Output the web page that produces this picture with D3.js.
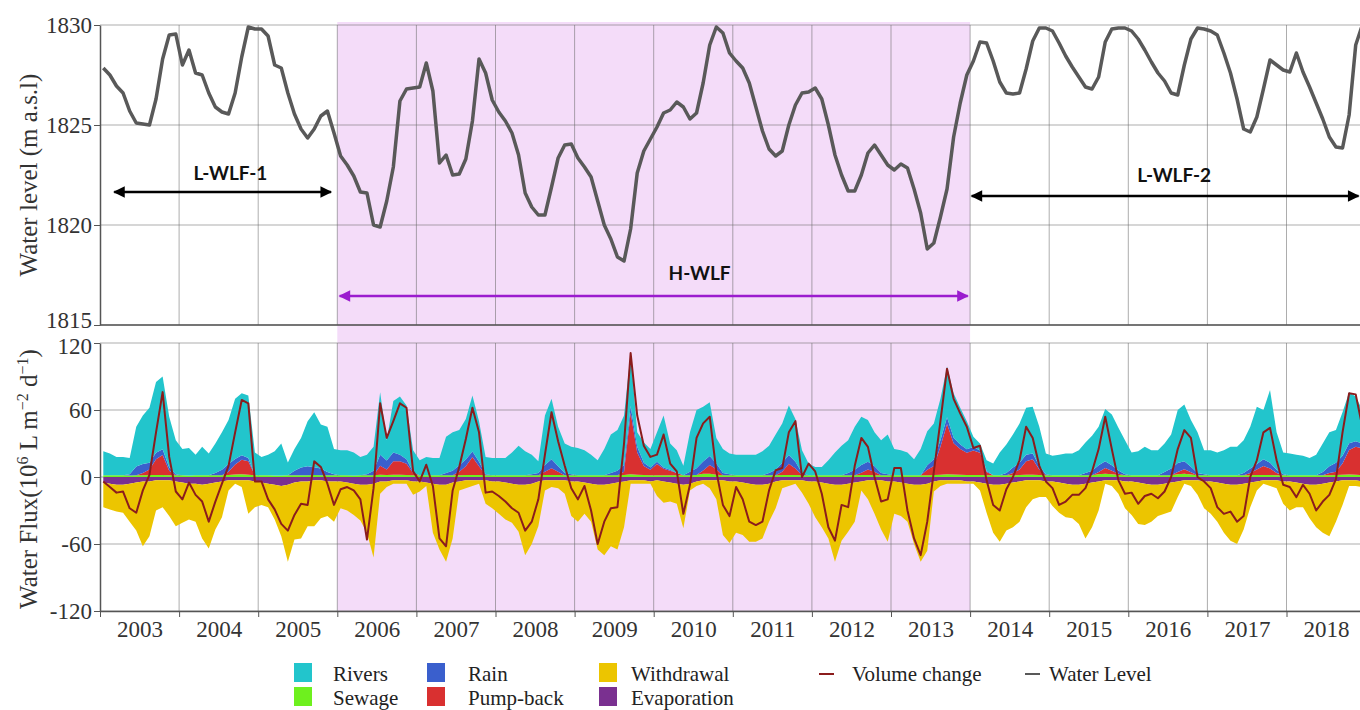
<!DOCTYPE html>
<html>
<head>
<meta charset="utf-8">
<script src="https://cdn.jsdelivr.net/npm/d3@7"></script>
<style>
  body { margin: 0; background: #fff; }
</style>
</head>
<body>
<div class="chart"></div>
<script>
// monthly values, Jan 2003 - Dec 2018
const years = d3.range(2003, 2019);
const levelTicks = [1815, 1820, 1825, 1830];
const fluxTicks = [-120, -60, 0, 60, 120];

const waterLevel = [
  1827.85,1827.5,1826.95,1826.6,1825.7,1825.1,1825.05,1825.0,1826.3,1828.3,1829.5,1829.55,
  1828.0,1828.75,1827.6,1827.5,1826.6,1825.9,1825.65,1825.55,1826.6,1828.4,1829.9,1829.8,
  1829.8,1829.45,1828.0,1827.85,1826.6,1825.55,1824.8,1824.35,1824.8,1825.45,1825.7,1824.6,
  1823.45,1823.0,1822.45,1821.65,1821.6,1820.0,1819.9,1821.2,1822.9,1826.2,1826.8,1826.85,
  1826.9,1828.1,1826.7,1823.1,1823.5,1822.5,1822.55,1823.3,1825.2,1828.3,1827.6,1826.25,
  1825.65,1825.2,1824.6,1823.5,1821.6,1820.9,1820.5,1820.5,1821.9,1823.35,1824.0,1824.05,
  1823.35,1822.9,1822.4,1821.2,1820.0,1819.3,1818.4,1818.2,1819.8,1822.6,1823.7,1824.3,
  1824.9,1825.6,1825.75,1826.15,1825.9,1825.3,1825.6,1827.1,1829.0,1829.9,1829.6,1828.6,
  1828.2,1827.85,1827.1,1825.9,1824.7,1823.8,1823.45,1823.7,1825.0,1826.0,1826.6,1826.65,
  1826.85,1826.3,1825.0,1823.5,1822.5,1821.7,1821.7,1822.5,1823.6,1824.0,1823.5,1823.0,
  1822.75,1823.05,1822.85,1821.8,1820.6,1818.8,1819.1,1820.4,1821.8,1824.4,1826.1,1827.5,
  1828.2,1829.15,1829.1,1828.2,1827.15,1826.6,1826.55,1826.6,1827.8,1829.2,1829.85,1829.85,
  1829.7,1829.1,1828.45,1827.9,1827.4,1826.9,1826.8,1827.4,1829.15,1829.8,1829.85,1829.85,
  1829.7,1829.3,1828.75,1828.15,1827.6,1827.2,1826.6,1826.5,1828.0,1829.3,1829.85,1829.8,
  1829.7,1829.5,1828.6,1827.6,1826.3,1824.8,1824.65,1825.4,1826.8,1828.25,1828.0,1827.75,
  1827.65,1828.6,1827.65,1826.9,1826.1,1825.3,1824.4,1823.9,1823.85,1825.5,1829.0,1830.0
];

const rivers = [
  21.5,19.5,16.4,16.5,14.6,35.5,43.4,49.3,63.2,65.2,45.4,30.5,
  23.5,24.6,18.5,25.5,19.4,26.4,33.5,39.3,53.8,55.6,56,20.5,
  16.5,18.5,21.6,28.6,11.5,19.5,26.4,40.4,49.3,39.4,40.5,22.5,
  22.5,22.5,20.6,16.5,17.5,21.4,56,18.2,46,52,48.2,19.5,
  13.5,16.5,15.5,15.5,32.4,34.4,31.4,36.3,50.2,36.3,15.5,15.5,
  15.5,15.5,20.5,26.4,21.5,17.5,10.5,44.3,54.2,35.3,26.4,24.5,
  24.5,22.5,18.5,13.5,23.5,34.5,36.4,44.3,47.5,13,18.2,16.4,
  26.4,46.5,23.5,20.5,8.5,35.4,52.2,49.2,48.2,23,21.4,18.5,
  18.5,18.5,18.5,18.5,21.5,24.5,31.4,35.3,44.2,38.3,20.5,10.5,
  7.5,7.5,13.5,20.5,26.5,29.5,38.4,43.3,37.3,30.4,29.5,35.5,
  23.5,22.5,20.5,14.5,23.5,30.4,32.2,37,45.5,39.8,33,25.2,
  9.2,6.3,9.5,10.5,20.5,25.5,29.4,35.3,42,42,35.2,18.5,
  17.5,18.5,19.5,19.5,22.5,27.5,31.4,34.5,47,45.5,38.2,30.5,
  20.5,21.5,25.5,22.5,22.5,25.5,30.4,47.5,51,41.8,36.4,21.5,
  22.5,20.5,22.5,25.5,25.5,29.5,37.4,51.3,44.2,65.3,33.4,19.5,
  19.5,18.5,17.5,15.5,18.5,25.5,30.4,29.3,39,45.8,40,30.2
];

const rain = [
  0,0,0,0,1,8,8,6,6,5,3,1,
  0,0,0,0,0,2,5,7,5,4,3,0,
  0,0,0,0,0,4,7,8,7,6,3,1,
  0,0,0,0,1,4,10,8,8,6,4,1,
  0,0,0,0,2,4,6,6,5,4,1,0,
  0,0,0,0,0,1,2,6,8,5,2,1,
  0,0,0,0,0,2,4,6,6,5,3,2,
  2,1,1,0,0,3,6,8,8,5,2,1,
  0,0,0,0,0,2,5,8,8,6,2,0,
  0,0,0,0,0,2,5,7,7,5,2,1,
  0,0,0,0,0,4,6,6,6,5,4,3,
  3,2,1,0,0,2,5,6,6,5,3,1,
  0,0,0,0,0,2,4,6,6,5,3,1,
  0,0,0,0,0,3,6,8,7,5,2,1,
  0,0,0,0,0,2,4,5,6,5,3,1,
  0,0,0,0,0,3,6,8,7,6,5,4
];

const pumpBack = [
  0,0,0,0,0,0,2,5,14,18,4,0,
  0,0,0,0,0,0,0,3,9,13,12,0,
  0,0,0,0,0,0,0,0,0,0,0,0,
  0,0,0,0,0,0,8,5,12,12,10,2,
  0,0,0,0,0,0,3,8,16,8,0,0,
  0,0,0,0,0,0,0,3,6,3,0,0,
  0,0,0,0,0,0,0,3,55,20,8,5,
  10,6,4,2,0,0,0,3,8,5,0,0,
  0,0,0,0,0,0,0,3,10,6,0,0,
  0,0,0,0,0,0,0,2,5,3,0,0,
  0,0,0,0,0,5,8,25,45,28,23,20,
  22,20,3,0,0,0,2,5,12,14,5,0,
  0,0,0,0,0,0,0,2,5,3,1,0,
  0,0,0,0,0,0,0,2,4,2,0,0,
  0,0,0,0,0,0,2,5,8,6,2,0,
  0,0,0,0,0,0,2,3,10,22,25,24
];

const sewage = [
  1.5,1.5,1.6,1.5,1.4,1.5,1.6,1.7,1.8,1.8,1.6,1.5,
  1.5,1.4,1.5,1.5,1.6,1.6,1.5,1.7,2.2,2.4,2.0,1.5,
  1.5,1.5,1.4,1.4,1.5,1.5,1.6,1.6,1.7,1.6,1.5,1.5,
  1.5,1.5,1.4,1.5,1.5,1.6,2.0,1.8,2.0,2.0,1.8,1.5,
  1.5,1.5,1.5,1.5,1.6,1.6,1.6,1.7,1.8,1.7,1.5,1.5,
  1.5,1.5,1.5,1.6,1.5,1.5,1.5,1.7,1.8,1.7,1.6,1.5,
  1.5,1.5,1.5,1.5,1.5,1.5,1.6,1.7,2.5,2.0,1.8,1.6,
  1.6,1.5,1.5,1.5,1.5,1.6,1.8,2.8,2.8,2.0,1.6,1.5,
  1.5,1.5,1.5,1.5,1.5,1.5,1.6,1.7,1.8,1.7,1.5,1.5,
  1.5,1.5,1.5,1.5,1.5,1.5,1.6,1.7,1.7,1.6,1.5,1.5,
  1.5,1.5,1.5,1.5,1.5,1.6,1.8,2.0,2.5,2.2,2.0,1.8,
  1.8,1.7,1.5,1.5,1.5,1.5,1.6,1.7,2.0,2.0,1.8,1.5,
  1.5,1.5,1.5,1.5,1.5,1.5,1.6,2.5,3.0,2.5,1.8,1.5,
  1.5,1.5,1.5,1.5,1.5,1.5,1.6,2.5,3.0,2.2,1.6,1.5,
  1.5,1.5,1.5,1.5,1.5,1.5,1.6,1.7,1.8,1.7,1.6,1.5,
  1.5,1.5,1.5,1.5,1.5,1.5,1.6,1.7,2.0,2.2,2.0,1.8
];

const withdrawal = [
  -22,-23,-24,-25,-34,-43,-58,-49,-27,-24,-32,-40,
  -36,-32,-34,-48,-58,-42,-32,-9,-3,-6,-30,-23,
  -20,-21,-31,-45,-69,-51,-51,-40,-41,-34,-31,-36,
  -24,-25,-28,-32,-43,-66,-11,-5,-3,-3,-3,-12,
  -9,-3,-44,-58,-69,-50,-8,-7,-5,-3,-21,-24,
  -29,-33,-35,-42,-63,-54,-40,-9,-6,-7,-12,-31,
  -36,-28,-34,-58,-63,-56,-60,-41,-3,-3,-3,-2,
  -14,-19,-17,-18,-39,-6,-4,-3,-7,-17,-49,-55,
  -46,-47,-52,-51,-48,-34,-24,-7,-5,-3,-11,-20,
  -32,-40,-49,-69,-50,-43,-35,-8,-17,-30,-44,-54,
  -29,-30,-34,-53,-69,-60,-9,-5,-3,-3,-3,-2,
  -2,-7,-26,-43,-51,-42,-40,-36,-24,-17,-15,-14,
  -22,-27,-30,-30,-35,-49,-40,-26,-3,-5,-12,-24,
  -30,-37,-37,-33,-28,-27,-26,-14,-3,-5,-13,-24,
  -29,-35,-44,-50,-53,-41,-22,-8,-3,-5,-7,-20,
  -26,-22,-21,-30,-38,-44,-48,-36,-22,-5,-5,-5
];

const evaporation = [
  -5,-6,-7,-7,-6,-5,-4,-4,-3,-3,-3,-4,
  -5,-6,-6,-7,-6,-5,-4,-3,-3,-3,-3,-4,
  -5,-6,-7,-8,-7,-5,-4,-4,-3,-3,-4,-4,
  -4,-5,-6,-7,-7,-6,-4,-4,-3,-3,-3,-4,
  -4,-5,-6,-7,-7,-5,-4,-3,-3,-3,-3,-4,
  -4,-5,-6,-7,-7,-6,-4,-3,-3,-3,-3,-4,
  -4,-5,-6,-7,-7,-6,-5,-4,-3,-3,-3,-4,
  -3,-4,-5,-6,-7,-6,-4,-3,-3,-3,-3,-4,
  -4,-5,-6,-7,-7,-6,-4,-3,-3,-3,-3,-4,
  -4,-5,-6,-7,-7,-6,-5,-4,-3,-3,-3,-4,
  -4,-5,-6,-7,-7,-6,-4,-3,-3,-3,-3,-4,
  -4,-5,-6,-7,-7,-6,-5,-4,-3,-3,-3,-4,
  -4,-5,-6,-7,-7,-6,-5,-4,-3,-3,-3,-4,
  -4,-5,-6,-7,-7,-6,-5,-4,-3,-3,-3,-4,
  -4,-5,-6,-7,-7,-6,-5,-4,-3,-3,-3,-4,
  -4,-5,-6,-7,-7,-6,-5,-4,-3,-3,-3,-4
];

const volumeChange = [
  -4,-9,-14,-13,-28,-32,-12,2,40,76,18,-13,
  -20,-5,-16,-22,-40,-22,-6,10,40,69,66,-4,
  -4,-20,-29,-42,-48,-34,-24,-25,14,9,-6,-25,
  -11,-9,-12,-20,-56,-10,66,35,50,66,62,5,
  -4,11,-8,-55,-62,-12,9,34,62,40,-14,-13,
  -17,-22,-28,-32,-48,-40,-20,20,58,32,10,-10,
  -20,-8,-30,-60,-40,-28,-27,30,111,55,28,18,
  20,38,12,5,-33,-7,35,48,54,5,-25,-35,
  -9,-20,-40,-43,-40,-12,6,8,40,50,0,12,
  5,-15,-45,-57,-25,-27,10,35,27,0,-22,-20,
  8,8,-30,-55,-70,-40,5,50,97,70,57,45,
  26,28,-3,-25,-30,-11,0,15,45,35,10,-4,
  -10,-25,-22,-16,-16,-10,5,25,54,25,-3,-15,
  -14,-24,-17,-15,-19,-13,0,25,42,35,0,-4,
  -10,-27,-33,-31,-40,-35,0,15,40,44,15,-7,
  -9,-18,-7,-15,-30,-22,-16,-2,40,75,74,45
];

// periods marked on the level panel (years, m a.s.l.)
const periods = [
  {name: 'L-WLF-1', from: 2003.18, to: 2005.92, labelAt: 2004.65, arrowAt: 1821.65, labelLevel: 1822.25, color: '#000'},
  {name: 'H-WLF',   from: 2006.03, to: 2013.97, labelAt: 2010.58, arrowAt: 1816.45, labelLevel: 1817.25, color: '#9b1ccf'},
  {name: 'L-WLF-2', from: 2014.02, to: 2018.91, labelAt: 2016.58, arrowAt: 1821.45, labelLevel: 1822.15, color: '#000'}
];
const highPeriod = [2006, 2014];

const colors = {
  rivers: '#22c5cc', rain: '#3a5fcd', withdrawal: '#ecc500',
  sewage: '#6ef01e', pumpBack: '#d93030', evaporation: '#7a3090',
  volume: '#8b1c1c', level: '#595959'
};

const width = 1360, height = 710;
const serif = '"Liberation Serif", "Times New Roman", serif';

const svg = d3.select('.chart').append('svg')
  .attr('width', width)
  .attr('height', height);

const x = d3.scaleLinear().domain([2003, 2019]).range([100, 1365.6]);
const yLevel = d3.scaleLinear().domain([1815, 1830]).range([325, 25]);
const yFlux = d3.scaleLinear().domain([-120, 120]).range([611, 343]);

const rows = waterLevel.map((d, i) => ({
  t: 2003 + (i + 0.5) / 12,
  level: d,
  sewage: sewage[i], pumpBack: pumpBack[i], rain: rain[i], rivers: rivers[i],
  evaporation: evaporation[i], withdrawal: withdrawal[i],
  volume: volumeChange[i]
}));

// high water level fluctuation period
svg.append('rect')
  .attr('x', x(highPeriod[0]))
  .attr('y', 22)
  .attr('width', x(highPeriod[1]) - x(highPeriod[0]))
  .attr('height', yFlux(-120) - 22)
  .attr('fill', '#f4dcf9');

// grid
const grid = svg.append('g')
  .attr('stroke', '#6a6a6a')
  .attr('stroke-opacity', 0.55)
  .attr('stroke-width', 1);

grid.selectAll('line.hl')
  .data(levelTicks)
  .join('line')
  .attr('x1', x(2003)).attr('x2', width)
  .attr('y1', d => yLevel(d)).attr('y2', d => yLevel(d));

grid.selectAll('line.hf')
  .data(fluxTicks)
  .join('line')
  .attr('x1', x(2003)).attr('x2', width)
  .attr('y1', d => yFlux(d)).attr('y2', d => yFlux(d));

years.slice(1).forEach(yr => {
  grid.append('line')
    .attr('x1', x(yr)).attr('x2', x(yr))
    .attr('y1', yLevel(1830)).attr('y2', yLevel(1815));
  grid.append('line')
    .attr('x1', x(yr)).attr('x2', x(yr))
    .attr('y1', yFlux(120)).attr('y2', yFlux(-120));
});

// flux areas
const posKeys = ['sewage', 'pumpBack', 'rain', 'rivers'];
const negKeys = ['evaporation', 'withdrawal'];
const posStack = d3.stack().keys(posKeys)(rows);
const negStack = d3.stack().keys(negKeys)(rows);

const area = d3.area()
  .x(d => x(d.data.t))
  .y0(d => yFlux(d[0]))
  .y1(d => yFlux(d[1]));

svg.append('g')
  .selectAll('path')
  .data(posStack.concat(negStack))
  .join('path')
  .attr('d', area)
  .attr('fill', d => colors[d.key]);

// volume change
svg.append('path')
  .datum(rows)
  .attr('d', d3.line().x(d => x(d.t)).y(d => yFlux(d.volume)))
  .attr('fill', 'none')
  .attr('stroke', colors.volume)
  .attr('stroke-width', 2)
  .attr('stroke-linejoin', 'round');

// water level
svg.append('path')
  .datum(rows)
  .attr('d', d3.line().x(d => x(d.t)).y(d => yLevel(d.level)))
  .attr('fill', 'none')
  .attr('stroke', colors.level)
  .attr('stroke-width', 3.5)
  .attr('stroke-linejoin', 'round');

// axes
function styleAxis(g) {
  g.attr('font-family', null).attr('font-size', null);
  g.select('.domain').attr('stroke', '#555').attr('stroke-width', 1.5);
  g.selectAll('.tick line').attr('stroke', '#555');
  g.selectAll('.tick text')
    .attr('font-family', serif)
    .attr('font-size', 23)
    .attr('fill', '#333');
}

svg.append('g')
  .attr('transform', `translate(${x(2003)},0)`)
  .call(d3.axisLeft(yLevel).tickValues(levelTicks).tickSize(6).tickSizeOuter(0).tickPadding(2)
    .tickFormat(d3.format('d')))
  .call(styleAxis)
  .call(g => g.selectAll('.tick text').filter(d => d === 1815).attr('dy', '0.1em'));

svg.append('g')
  .attr('transform', `translate(${x(2003)},0)`)
  .call(d3.axisLeft(yFlux).tickValues(fluxTicks).tickSize(6).tickSizeOuter(0).tickPadding(2)
    .tickFormat(d => String(d)))
  .call(styleAxis)
  .call(g => g.selectAll('.tick text').filter(d => d === 120).attr('dy', '0.45em'));

// bottom lines of both panels
svg.append('line')
  .attr('x1', x(2003)).attr('x2', width)
  .attr('y1', yLevel(1815)).attr('y2', yLevel(1815))
  .attr('stroke', '#555').attr('stroke-width', 1.5);

svg.append('g')
  .attr('transform', `translate(0,${yFlux(-120)})`)
  .call(d3.axisBottom(x).tickValues(years.concat([2019])).tickSize(6).tickSizeOuter(0).tickFormat(''))
  .call(styleAxis);

svg.append('g')
  .attr('transform', `translate(0,${yFlux(-120)})`)
  .call(d3.axisBottom(x).tickValues(years.map(d => d + 0.5)).tickSize(0).tickPadding(10)
    .tickFormat(d => Math.floor(d)))
  .call(styleAxis)
  .call(g => g.select('.domain').remove());

// axis titles
svg.append('text')
  .attr('transform', `translate(37,${(yLevel(1830) + yLevel(1815)) / 2}) rotate(-90)`)
  .attr('text-anchor', 'middle')
  .attr('font-family', serif)
  .attr('font-size', 25)
  .attr('fill', '#333')
  .text('Water level (m a.s.l)');

const fluxTitle = svg.append('text')
  .attr('transform', `translate(37,${(yFlux(120) + yFlux(-120)) / 2 + 2}) rotate(-90)`)
  .attr('text-anchor', 'middle')
  .attr('font-family', serif)
  .attr('font-size', 25)
  .attr('fill', '#333');
fluxTitle.append('tspan').text('Water Flux(10');
fluxTitle.append('tspan').attr('dy', -9).attr('font-size', 16).text('6');
fluxTitle.append('tspan').attr('dy', 9).text(' L m');
fluxTitle.append('tspan').attr('dy', -9).attr('font-size', 16).text('\u22122');
fluxTitle.append('tspan').attr('dy', 9).text(' d');
fluxTitle.append('tspan').attr('dy', -9).attr('font-size', 16).text('\u22121');
fluxTitle.append('tspan').attr('dy', 9).text(')');

// period arrows
const defs = svg.append('defs');
periods.forEach((p, i) => {
  defs.append('marker')
    .attr('id', 'head' + i)
    .attr('viewBox', '0 0 10 10')
    .attr('refX', 9).attr('refY', 5)
    .attr('markerWidth', 5.5).attr('markerHeight', 4.5)
    .attr('orient', 'auto-start-reverse')
    .append('path')
    .attr('d', 'M0,0 L10,5 L0,10 Z')
    .attr('fill', p.color);
});

const ann = svg.append('g');
ann.selectAll('line')
  .data(periods)
  .join('line')
  .attr('x1', d => x(d.from)).attr('x2', d => x(d.to))
  .attr('y1', d => yLevel(d.arrowAt)).attr('y2', d => yLevel(d.arrowAt))
  .attr('stroke', d => d.color)
  .attr('stroke-width', 2.6)
  .attr('marker-start', (d, i) => `url(#head${i})`)
  .attr('marker-end', (d, i) => `url(#head${i})`);

ann.selectAll('text')
  .data(periods)
  .join('text')
  .attr('x', d => x(d.labelAt))
  .attr('y', d => yLevel(d.labelLevel))
  .attr('text-anchor', 'middle')
  .attr('font-family', 'Lato, "Open Sans", sans-serif')
  .attr('font-weight', 700)
  .attr('font-size', 19)
  .attr('fill', '#111')
  .text(d => d.name);

// legend
const legendItems = [
  {name: 'Rivers', key: 'rivers', col: 0, row: 0},
  {name: 'Rain', key: 'rain', col: 1, row: 0},
  {name: 'Withdrawal', key: 'withdrawal', col: 2, row: 0},
  {name: 'Sewage', key: 'sewage', col: 0, row: 1},
  {name: 'Pump-back', key: 'pumpBack', col: 1, row: 1},
  {name: 'Evaporation', key: 'evaporation', col: 2, row: 1}
];
const legendCols = [{sx: 294, tx: 333}, {sx: 427, tx: 468}, {sx: 599, tx: 631}];
const rowBase = [681, 705];

const legend = svg.append('g')
  .attr('font-family', serif)
  .attr('font-size', 21)
  .attr('fill', '#222');

legend.selectAll('rect')
  .data(legendItems)
  .join('rect')
  .attr('x', d => legendCols[d.col].sx)
  .attr('y', d => rowBase[d.row] - 18)
  .attr('width', 18)
  .attr('height', 19)
  .attr('fill', d => colors[d.key]);

legend.selectAll('text.item')
  .data(legendItems)
  .join('text')
  .attr('class', 'item')
  .attr('x', d => legendCols[d.col].tx)
  .attr('y', d => rowBase[d.row])
  .text(d => d.name);

const lineItems = [
  {name: 'Volume change', key: 'volume', sx: 819, tx: 852},
  {name: 'Water Level', key: 'level', sx: 1025, tx: 1049}
];
legend.selectAll('line')
  .data(lineItems)
  .join('line')
  .attr('x1', d => d.sx).attr('x2', d => d.sx + 15)
  .attr('y1', rowBase[0] - 7).attr('y2', rowBase[0] - 7)
  .attr('stroke', d => colors[d.key])
  .attr('stroke-width', 2);

legend.selectAll('text.line')
  .data(lineItems)
  .join('text')
  .attr('class', 'line')
  .attr('x', d => d.tx)
  .attr('y', rowBase[0])
  .text(d => d.name);
</script>
</body>
</html>
